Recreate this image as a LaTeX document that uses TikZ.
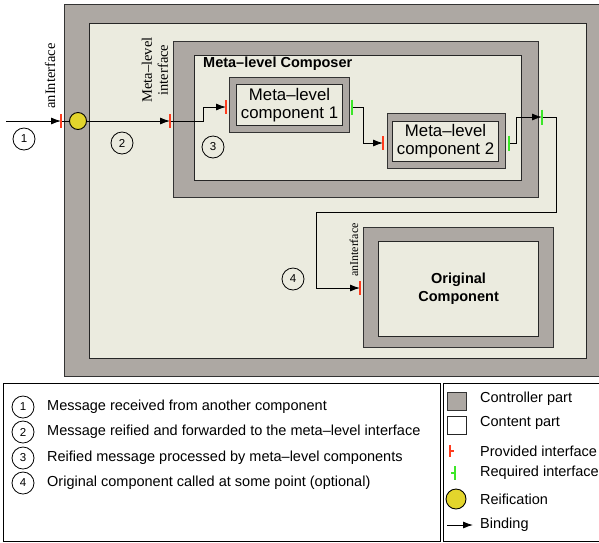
\documentclass[tikz,border=0pt]{standalone}
\usepackage{fontspec}
\setsansfont{Liberation Sans}
\newfontfamily\timesfam{Liberation Serif}
\usetikzlibrary{arrows.meta,positioning}

\definecolor{ctrlgray}{RGB}{173,168,163}
\definecolor{contbeige}{RGB}{235,235,223}
\definecolor{reifyellow}{RGB}{227,213,44}
\definecolor{provred}{RGB}{255,60,30}
\definecolor{reqgreen}{RGB}{60,230,40}

\newcommand{\legfont}{\sffamily\fontsize{14.5}{17}\selectfont}
\newcommand{\compfont}{\sffamily\fontsize{16.8}{18}\selectfont}
\newcommand{\titlefont}{\sffamily\bfseries\fontsize{14.5}{18}\selectfont}
\newcommand{\itffont}{\timesfam\fontsize{14.5}{16}\selectfont}

\tikzset{
  ctrl/.style={draw=black!80, fill=ctrlgray, line width=1.2pt, anchor=north west, inner sep=0pt},
  cont/.style={draw=black!85, fill=contbeige, line width=1.1pt, anchor=north west, inner sep=0pt, align=center},
  bind/.style={-{Latex[length=10pt,width=7pt]}, line width=0.9pt},
  provided/.style={draw=provred, line width=1.2pt},
  required/.style={draw=reqgreen, line width=1.2pt},
  numcirc/.style={circle, draw, line width=0.8pt, minimum size=22pt, inner sep=0pt, font=\sffamily\fontsize{11.5}{11.5}\selectfont},
}

\begin{document}
\begin{tikzpicture}[x=1pt, y=-1pt]
\useasboundingbox (0,0) rectangle (599,542);
\clip (0,0) rectangle (599,542);

% outer component
\node[ctrl, line width=1.4pt, minimum width=546pt, minimum height=372pt] (outer) at (64,4) {};
\node[cont, minimum width=497pt, minimum height=335pt] (outerc) at (89,23) {};

% meta-level composer
\node[ctrl, minimum width=365pt, minimum height=156pt] (comp) at (173,41) {};
\node[cont, minimum width=327pt, minimum height=125pt] (compc) at (194,55) {};
\node[anchor=west, inner sep=0pt, font=\titlefont] (comptitle) at (203,64) {Meta–level Composer};

\node[ctrl, minimum width=120pt, minimum height=55pt] (mc1) at (229,77) {};
\node[cont, minimum width=106pt, minimum height=41pt, font=\compfont] (mc1c) at (236,84) {Meta–level\\component 1};
\node[ctrl, minimum width=118pt, minimum height=55pt] (mc2) at (387,113) {};
\node[cont, minimum width=106pt, minimum height=40pt, font=\compfont] (mc2c) at (392,121) {Meta–level\\component 2};

% original component
\node[ctrl, minimum width=190pt, minimum height=120pt] (orig) at (363,227) {};
\node[cont, minimum width=160pt, minimum height=95pt, font=\titlefont] (origc) at (378,241) {Original\\Component};

% interfaces
\coordinate (in1) at (6,121);
\coordinate (ai) at (61,121);
\coordinate (mli) at (170,121);
\coordinate (p1) at (226,107);
\coordinate (r1) at (352,107);
\coordinate (p2) at (383,143);
\coordinate (r2) at (509,143);
\coordinate (rc) at (542,117);
\coordinate (bend) at (316,212);
\coordinate (po) at (360,288);
\node[circle, draw, line width=0.9pt, fill=reifyellow, minimum size=17pt, inner sep=0pt] (reif) at (78,121) {};

% bindings
\draw[bind] (in1) -- (ai);
\draw[line width=0.9pt] (ai) -- (reif);
\draw[bind] (reif) -- (mli);
\draw[bind] (mli) -- ++(33,0) |- (p1);
\draw[bind] (r1) -- ++(11,0) |- (p2);
\draw[bind] (r2) -- ++(7,0) |- (rc);
\draw[bind] (rc) -| ++(14,95) -- (bend) |- (po);

\foreach \p in {ai,mli,p1,p2,po}
  \draw[provided] ([yshift=7pt]\p) -- ([yshift=-7pt]\p);
\foreach \r in {r1,r2,rc}
  \draw[required] ([yshift=7.5pt]\r) -- ([yshift=-7.5pt]\r);

% labels
\node[rotate=90, inner sep=0pt, font=\itffont] (ailbl) at (50,76) {anInterface};
\node[rotate=90, inner sep=0pt, align=center, font=\itffont] (mlilbl) at (155,70) {Meta–level\\interface};
\node[rotate=90, inner sep=0pt, font=\timesfam\fontsize{12}{12}\selectfont] (polbl) at (354,250) {anInterface};

\node[numcirc] (n1) at (24,139) {1};
\node[numcirc] (n2) at (122,143) {2};
\node[numcirc] (n3) at (213,147) {3};
\node[numcirc] (n4) at (293,279) {4};

% legend
\node[draw, line width=0.9pt, anchor=north west, minimum width=437pt, minimum height=158pt] (legleft) at (3,383) {};
\node[draw, line width=0.9pt, anchor=north west, minimum width=170pt, minimum height=158pt] (legright) at (443,383) {};

\foreach \y/\n/\txt in {407/1/Message received from another component,
    432/2/Message reified and forwarded to the meta–level interface,
    458/3/Reified message processed by meta–level components,
    483/4/Original component called at some point (optional)} {
  \node[numcirc] (leg\n) at (23,\y) {\n};
  \node[anchor=west, inner sep=0pt, font=\legfont] (legtxt\n) at (47,\y) {\txt};
}

\node[ctrl, minimum width=19pt, minimum height=18pt] (keyctrl) at (447,392) {};
\node[draw=black!85, fill=white, line width=1.1pt, anchor=north west, minimum width=19pt, minimum height=18pt] (keycont) at (447,416) {};
\coordinate (keyprov) at (450,451);
\draw[provided] ([yshift=6pt]keyprov) -- ([yshift=-6pt]keyprov);
\draw[provided] (keyprov) -- ++(4,0);
\coordinate (keyreq) at (455,473);
\draw[required] ([yshift=7pt]keyreq) -- ([yshift=-7pt]keyreq);
\draw[required] (keyreq) -- ++(-4,0);
\node[circle, draw, line width=0.9pt, fill=reifyellow, minimum size=20pt, inner sep=0pt] (keyreif) at (456,499) {};
\coordinate (keybinda) at (447,525);
\coordinate (keybindb) at (473,525);
\draw[bind] (keybinda) -- (keybindb);

\foreach \y/\n/\txt in {399/1/Controller part, 423/2/Content part, 451/3/Provided interface,
    473/4/Required interface, 499/5/Reification, 525/6/Binding}
  \node[anchor=west, inner sep=0pt, font=\legfont] (keytxt\n) at (480,\y) {\txt};
\end{tikzpicture}
\end{document}
